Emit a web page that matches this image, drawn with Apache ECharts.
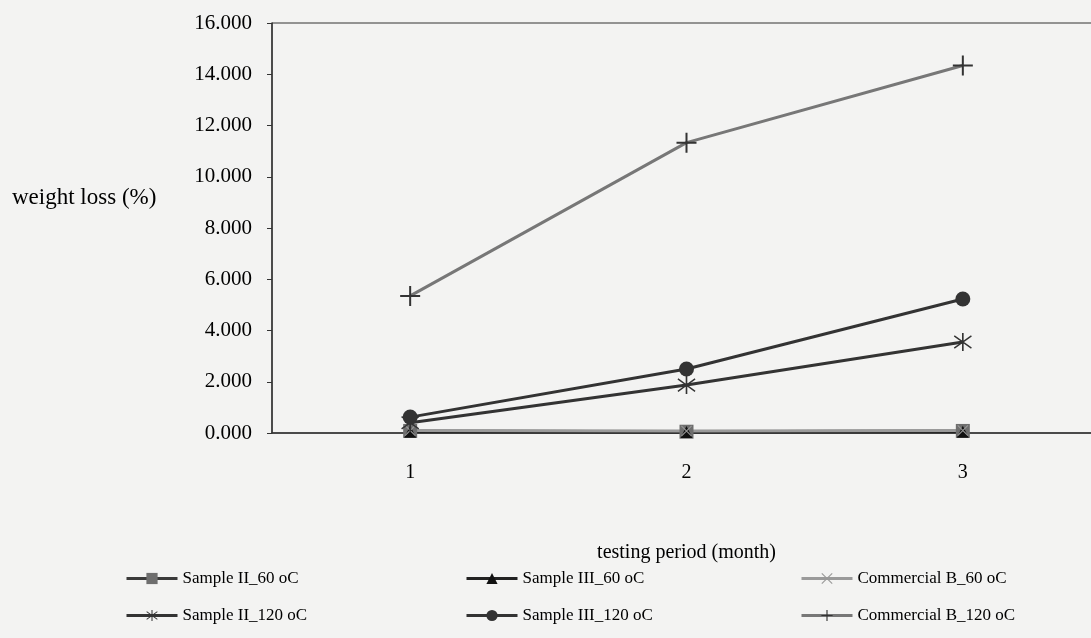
<!DOCTYPE html>
<html>
<head>
<meta charset="utf-8">
<style>
html, body { margin: 0; padding: 0; background: #f3f3f2; }
#chart { width: 1091px; height: 638px; }
</style>
<script src="https://cdn.jsdelivr.net/npm/echarts@6/dist/echarts.min.js"></script>
</head>
<body>
<div id="chart"></div>
<script>
// testing period (month)
const months = ['1', '2', '3']
// weight loss (%)
const sample2_60 = [0.08, 0.05, 0.08]
const sample3_60 = [0.05, 0.04, 0.05]
const commB_60 = [0.1, 0.08, 0.1]
const sample2_120 = [0.4, 1.87, 3.55]
const sample3_120 = [0.62, 2.5, 5.23]
const commB_120 = [5.35, 11.33, 14.34]

const FONT = 'Liberation Serif'
const plusPath = 'path://M9,0H11V20H9Z M0,9H20V11H0Z'
const xPath = 'path://M0,1.4L1.4,0L20,18.6L18.6,20Z M18.6,0L20,1.4L1.4,20L0,18.6Z'
const starPath = 'path://M9.2,0H10.8V20H9.2Z M1.2,3.8L2,2.4L18.8,16.2L18,17.6Z M18,2.4L18.8,3.8L2,17.6L1.2,16.2Z'

function line (name, data, symbol, size, markColor, lineColor) {
  return {
    name: name,
    type: 'line',
    data: data,
    symbol: symbol,
    symbolSize: size,
    itemStyle: { color: markColor },
    lineStyle: { color: lineColor, width: 3 }
  }
}

const myChart = echarts.init(document.getElementById('chart'))
const legendBase = {
  orient: 'vertical',
  top: 570,
  padding: 0,
  itemWidth: 51,
  itemHeight: 14,
  itemGap: 20,
  lineStyle: { width: 3 },
  textStyle: { fontFamily: FONT, fontSize: 17, color: '#000' }
}
myChart.setOption({
  animation: false,
  backgroundColor: '#f3f3f2',
  grid: {
    left: 272,
    right: -10,
    top: 23,
    bottom: 205,
    outerBoundsMode: 'none',
    show: true,
    borderColor: '#333',
    borderWidth: 1
  },
  graphic: [{
    type: 'text',
    left: 12,
    top: 186,
    style: { text: 'weight loss (%)', font: '23px "Liberation Serif"', fill: '#000' }
  }],
  legend: [
    Object.assign({ left: 125, data: ['Sample II_60 oC', 'Sample II_120 oC'] }, legendBase),
    Object.assign({ left: 465, data: ['Sample III_60 oC', 'Sample III_120 oC'] }, legendBase),
    Object.assign({ left: 800, data: ['Commercial B_60 oC', 'Commercial B_120 oC'] }, legendBase)
  ],
  xAxis: {
    type: 'category',
    data: months,
    name: 'testing period (month)',
    nameLocation: 'middle',
    nameGap: 110,
    nameTextStyle: { fontFamily: FONT, fontSize: 20, color: '#000' },
    axisLine: { lineStyle: { color: '#333', width: 1.5 } },
    axisTick: { inside: true, length: 5, lineStyle: { color: '#333' } },
    axisLabel: { margin: 30, fontFamily: FONT, fontSize: 20, color: '#000' }
  },
  yAxis: {
    type: 'value',
    min: 0,
    max: 16,
    interval: 2,
    splitLine: { show: false },
    axisLine: { show: true, lineStyle: { color: '#333', width: 1.5 } },
    axisTick: { show: true, length: 5, lineStyle: { color: '#333' } },
    axisLabel: {
      margin: 20,
      fontFamily: FONT,
      fontSize: 21,
      color: '#000',
      formatter: v => v.toFixed(3)
    }
  },
  series: [
    line('Sample II_60 oC', sample2_60, 'rect', 14, '#6e6e6e', '#3a3a3a'),
    line('Sample III_60 oC', sample3_60, 'triangle', 12, '#111', '#222'),
    line('Commercial B_60 oC', commB_60, xPath, 11, '#999', '#9a9a9a'),
    line('Sample II_120 oC', sample2_120, starPath, 18, '#333', '#333'),
    line('Sample III_120 oC', sample3_120, 'circle', 15, '#333', '#333'),
    line('Commercial B_120 oC', commB_120, plusPath, 20, '#333', '#777')
  ]
})
</script>
</body>
</html>
